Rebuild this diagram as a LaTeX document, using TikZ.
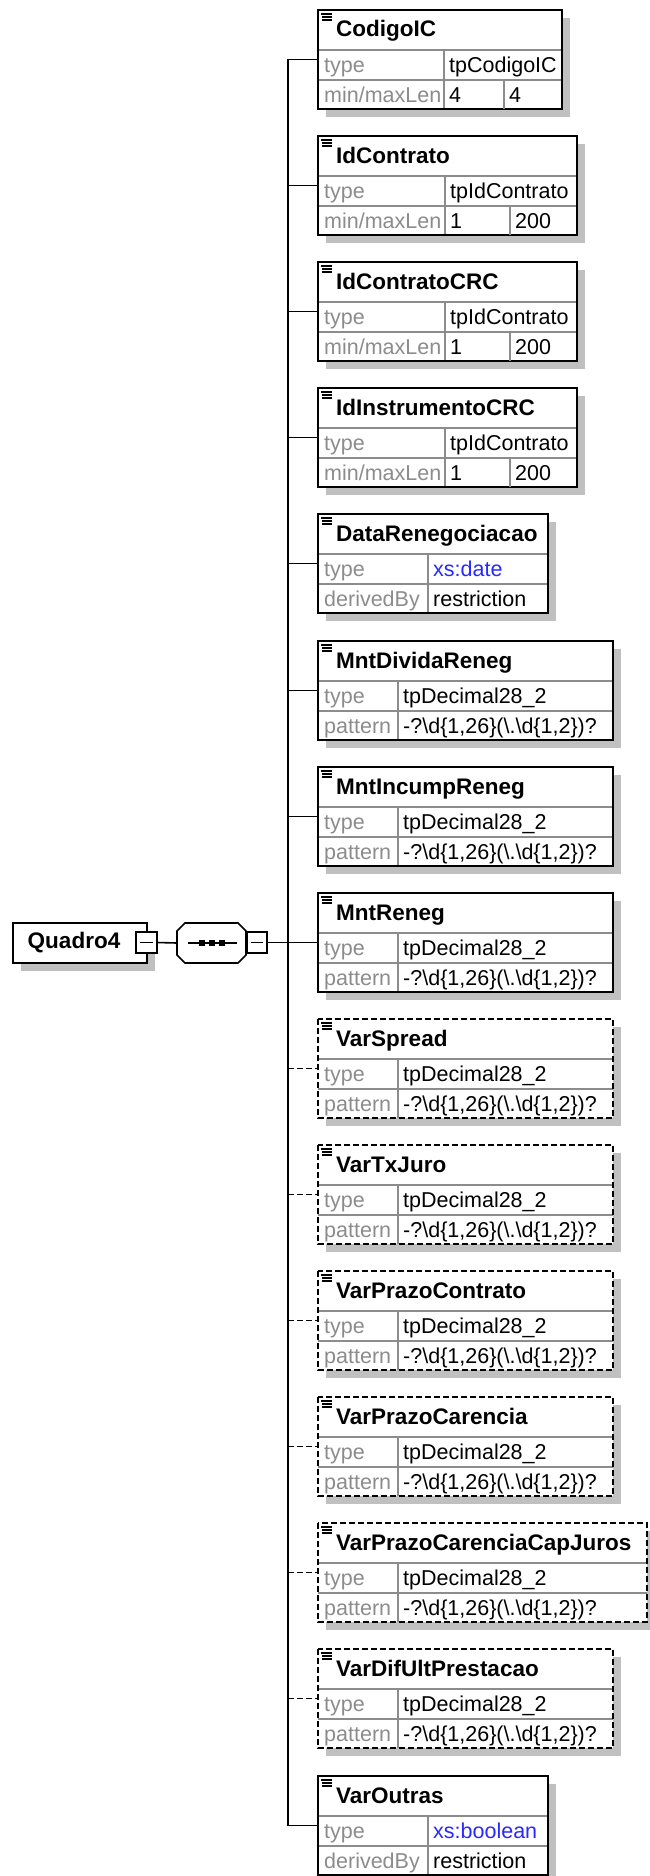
\documentclass[tikz,border=0pt]{standalone}
\usepackage{fontspec}
\setmainfont{Liberation Sans}
\definecolor{shadowgray}{RGB}{192,192,192}
\definecolor{gridgray}{RGB}{140,140,140}
\definecolor{lblgray}{RGB}{140,140,140}
\definecolor{typeblue}{RGB}{40,40,255}
\newcommand\lbfont{\fontsize{21.5}{24}\selectfont}
\newcommand\ttfont{\fontsize{22.5}{26}\selectfont\bfseries}
\tikzset{
  boxfill/.style={fill=white, draw=none, inner sep=0, outer sep=0, anchor=north west, minimum height=99pt},
  solidborder/.style={draw=black, line width=1.6pt},
  dashborder/.style={draw=black, line width=1.6pt, dash pattern=on 6pt off 3pt},
  gridline/.style={draw=gridgray, line width=1.2pt},
  lbl/.style={anchor=base west, inner sep=0, font=\lbfont, text=lblgray},
  val/.style={anchor=base west, inner sep=0, font=\lbfont, text=black},
  ttl/.style={anchor=base west, inner sep=0, font=\ttfont},
  conn/.style={draw=black, line width=1.6pt},
  dconn/.style={conn, dash pattern=on 6pt off 3pt},
  icon/.style={draw=black, line width=1.1pt},
  minusbox/.style={draw=black, line width=1.4pt, fill=white, minimum width=20pt, minimum height=21pt, inner sep=0, outer sep=0},
}
% #1 name, #2 top, #3 right, #4 divider, #5 title, #6 type value, #7 row2 label, #8 row2 value, #9 border style
\newcommand\elembox[9]{%
  \fill[shadowgray] (326,#2+8) rectangle (#3+8,#2+107);
  \node[boxfill, minimum width={(#3-318)*1pt}] (#1) at (318,#2) {};
  \draw[gridline] (318,#2+40) -- (#3,#2+40) (318,#2+70) -- (#3,#2+70) (#4,#2+40) -- (#4,#2+99);
  \draw[#9] (#1.north west) rectangle (#1.south east);
  \draw[icon] (321,#2+4) -- (332,#2+4) (322,#2+7) -- (332,#2+7) (322,#2+10) -- (332,#2+10);
  \node[ttl] (#1-t) at (336,#2+27) {#5};
  \node[lbl] (#1-a) at (324,#2+62.5) {type};
  \node[val] (#1-b) at (#4+5,#2+62.5) {#6};
  \node[lbl] (#1-c) at (324,#2+92) {#7};
  \node[val] (#1-d) at (#4+5,#2+92) {#8};
}
\newcommand\secondval[4]{% #1 name, #2 top, #3 divider2, #4 value
  \draw[gridline] (#3,#2+70) -- (#3,#2+99);
  \node[val] (#1-e) at (#3+5,#2+92) {#4};
}
\newcommand\pat{-?\textbackslash d\{1,26\}(\textbackslash .\textbackslash d\{1,2\})?}
\newcommand\blue[1]{\textcolor{typeblue}{#1}}
\begin{document}
\begin{tikzpicture}[x=1pt,y=-1pt]
\useasboundingbox (0,0) rectangle (650,1876);
\fill[white] (0,0) rectangle (650,1876);

% root element
\fill[shadowgray] (21,931) rectangle (155,971);
\node[draw=black, line width=1.6pt, fill=white, minimum width=134pt, minimum height=40pt, inner sep=0, outer sep=0, anchor=north west, font=\ttfont] (q) at (13,923) {Quadro4\hspace*{12pt}};
\node[minusbox, minimum width=21pt] (qm) at (146.5,942.5) {};
\draw[line width=1.4pt] ([xshift=4pt]qm.west) -- ([xshift=-4pt]qm.east);

% sequence compositor
\node[minimum width=69pt, minimum height=40pt, inner sep=0, outer sep=0] (seq) at (211.5,943) {};
\begin{scope}[shift={(8,8)}]
\fill[shadowgray] ([xshift=8pt]seq.north west) -- ([xshift=-8pt]seq.north east) -- ([yshift=-8pt]seq.north east) -- ([yshift=8pt]seq.south east) -- ([xshift=-8pt]seq.south east) -- ([xshift=8pt]seq.south west) -- ([yshift=8pt]seq.south west) -- ([yshift=-8pt]seq.north west) -- cycle;
\end{scope}
\filldraw[fill=white, draw=black, line width=1.6pt] ([xshift=8pt]seq.north west) -- ([xshift=-8pt]seq.north east) -- ([yshift=-8pt]seq.north east) -- ([yshift=8pt]seq.south east) -- ([xshift=-8pt]seq.south east) -- ([xshift=8pt]seq.south west) -- ([yshift=8pt]seq.south west) -- ([yshift=-8pt]seq.north west) -- cycle;
\draw[line width=1.4pt] ([xshift=11pt]seq.west) -- ([xshift=-9pt]seq.east);
\fill (199,939.5) rectangle (205,945.5);
\fill (209,939.5) rectangle (215,945.5);
\fill (219,939.5) rectangle (225,945.5);
\node[minusbox] (sm) at (257,942.5) {};
\draw[line width=1.4pt] ([xshift=4pt]sm.west) -- ([xshift=-4pt]sm.east);
\draw[conn] (qm.east) -- (seq.west);

% child elements
\elembox{b0}{10}{562}{444}{CodigoIC}{tpCodigoIC}{min/maxLen}{4}{solidborder}
\secondval{b0}{10}{504}{4}
\elembox{b1}{136}{577}{445}{IdContrato}{tpIdContrato}{min/maxLen}{1}{solidborder}
\secondval{b1}{136}{510}{200}
\elembox{b2}{262}{577}{445}{IdContratoCRC}{tpIdContrato}{min/maxLen}{1}{solidborder}
\secondval{b2}{262}{510}{200}
\elembox{b3}{388}{577}{445}{IdInstrumentoCRC}{tpIdContrato}{min/maxLen}{1}{solidborder}
\secondval{b3}{388}{510}{200}
\elembox{b4}{514}{548}{428}{DataRenegociacao}{\blue{xs:date}}{derivedBy}{restriction}{solidborder}
\elembox{b5}{641}{613}{398}{MntDividaReneg}{tpDecimal28\_2}{pattern}{\pat}{solidborder}
\elembox{b6}{767}{613}{398}{MntIncumpReneg}{tpDecimal28\_2}{pattern}{\pat}{solidborder}
\elembox{b7}{893}{613}{398}{MntReneg}{tpDecimal28\_2}{pattern}{\pat}{solidborder}
\elembox{b8}{1019}{613}{398}{VarSpread}{tpDecimal28\_2}{pattern}{\pat}{dashborder}
\elembox{b9}{1145}{613}{398}{VarTxJuro}{tpDecimal28\_2}{pattern}{\pat}{dashborder}
\elembox{b10}{1271}{613}{398}{VarPrazoContrato}{tpDecimal28\_2}{pattern}{\pat}{dashborder}
\elembox{b11}{1397}{613}{398}{VarPrazoCarencia}{tpDecimal28\_2}{pattern}{\pat}{dashborder}
\elembox{b12}{1523}{647}{398}{VarPrazoCarenciaCapJuros}{tpDecimal28\_2}{pattern}{\pat}{dashborder}
\elembox{b13}{1649}{613}{398}{VarDifUltPrestacao}{tpDecimal28\_2}{pattern}{\pat}{dashborder}
\elembox{b14}{1776}{548}{428}{VarOutras}{\blue{xs:boolean}}{derivedBy}{restriction}{solidborder}

% trunk and connectors
\coordinate (tr) at (288,942.5);
\draw[conn] (sm.east) -- (tr);
\draw[conn] (b0.west) -- (b0.west -| tr) -- (b14.west -| tr) -- (b14.west);
\foreach \b in {b1,b2,b3,b4,b5,b6,b7} { \draw[conn] (\b.west -| tr) -- (\b.west); }
\foreach \b in {b8,b9,b10,b11,b12,b13} { \draw[dconn] (\b.west -| tr) -- (\b.west); }
\end{tikzpicture}
\end{document}
